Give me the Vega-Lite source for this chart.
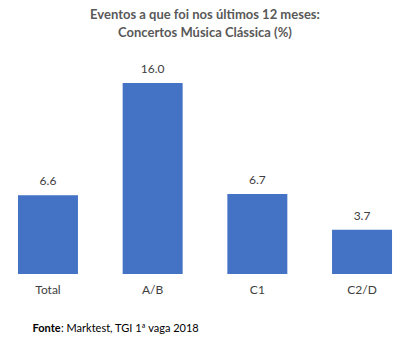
{
  "$schema": "https://vega.github.io/schema/vega-lite/v6.json",
  "width": 395,
  "height": 191,
  "autosize": "none",
  "padding": {"left": 7.5, "right": 2.5, "top": 83, "bottom": 74},
  "background": "white",
  "config": {"view": {"stroke": null}, "font": "Lato"},
  "title": {
    "text": ["Eventos a que foi nos últimos 12 meses:", "Concertos Música Clássica (%)"],
    "fontSize": 13,
    "fontWeight": "bold",
    "color": "#595959",
    "anchor": "middle",
    "lineHeight": 18,
    "offset": 23
  },
  "data": {
    "values": [
      {"grupo": "Total", "valor": 6.6},
      {"grupo": "A/B", "valor": 16.0},
      {"grupo": "C1", "valor": 6.7},
      {"grupo": "C2/D", "valor": 3.7}
    ]
  },
  "encoding": {
    "x": {
      "field": "grupo",
      "type": "nominal",
      "sort": null,
      "scale": {"paddingInner": 0.427, "paddingOuter": 0.1},
      "axis": {
        "domain": false,
        "ticks": false,
        "labelAngle": 0,
        "labelPadding": 10,
        "labelFontSize": 12,
        "labelColor": "#404040",
        "title": ": Marktest, TGI 1ª vaga 2018",
        "titleFontSize": 11,
        "titleFontWeight": "normal",
        "titleColor": "#000000",
        "titleAnchor": "start",
        "titleAlign": "left",
        "titleBaseline": "middle",
        "titleX": 53,
        "titleY": 54
      }
    },
    "y": {
      "field": "valor",
      "type": "quantitative",
      "scale": {"domain": [0, 16], "nice": false},
      "axis": {
        "labels": false,
        "ticks": false,
        "domain": false,
        "grid": false,
        "title": "Fonte",
        "titleAngle": 0,
        "titleFontSize": 11,
        "titleFontWeight": "bold",
        "titleColor": "#000000",
        "titleAlign": "left",
        "titleBaseline": "middle",
        "titleX": 24.5,
        "titleY": 245
      }
    }
  },
  "layer": [
    {"mark": {"type": "bar", "color": "#4472C4"}},
    {
      "mark": {"type": "text", "baseline": "middle", "dy": -14, "fontSize": 12, "color": "#404040"},
      "encoding": {"text": {"field": "valor", "type": "quantitative", "format": ".1f"}}
    }
  ]
}
